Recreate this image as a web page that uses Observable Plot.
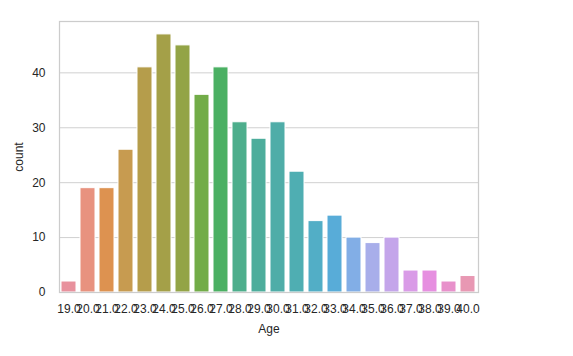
<!DOCTYPE html>
<html>
<head>
<meta charset="utf-8">
<script src="https://cdn.jsdelivr.net/npm/d3@7"></script>
<script src="https://cdn.jsdelivr.net/npm/@observablehq/plot@0.6"></script>
<style>
  html, body { margin: 0; padding: 0; background: white; }
</style>
</head>
<body>
<div id="chart"></div>
<script>
const ages = ["19.0","20.0","21.0","22.0","23.0","24.0","25.0","26.0","27.0","28.0","29.0",
              "30.0","31.0","32.0","33.0","34.0","35.0","36.0","37.0","38.0","39.0","40.0"];
const counts = [2, 19, 19, 26, 41, 47, 45, 36, 41, 31, 28,
                31, 22, 13, 14, 10, 9, 10, 4, 4, 2, 3];
const barColors = ["#e8919d","#e8927f","#dd9250","#c79b50","#b59d4b","#a4a048","#93a446","#72ac48","#4bb063","#4dae8c","#4dad9c",
                   "#4fada8","#4faeb2","#52aec6","#58acd8","#82aee6","#a8aeea","#c4a5ea","#d99be7","#e68fe0","#e891cb","#e898b3"];
const yTicks = [0, 10, 20, 30, 40];

const data = ages.map((a, i) => ({age: a, count: counts[i], color: barColors[i]}));

const chart = Plot.plot({
  width: 573,
  height: 356,
  marginLeft: 59,
  marginRight: 95,
  marginTop: 21,
  marginBottom: 64,
  style: {fontFamily: "'Liberation Sans', Arial, sans-serif", fontSize: "12px", color: "#262626", background: "white"},
  x: {domain: ages, paddingInner: 0.2, paddingOuter: 0.1, label: "Age"},
  y: {domain: [0, 49.35], label: "count"},
  color: {type: "identity"},
  marks: [
    Plot.gridY(yTicks, {stroke: "#d0d0d0", strokeOpacity: 1, strokeWidth: 1}),
    Plot.barY(data, {x: "age", y: "count", fill: "color", stroke: "white", strokeWidth: 1}),
    Plot.frame({stroke: "#cccccc", strokeWidth: 1.25}),
    Plot.axisX({tickSize: 0, tickPadding: 12, label: "Age", labelAnchor: "center", labelArrow: "none", labelOffset: 40}),
    Plot.axisY(yTicks, {tickSize: 0, tickPadding: 14, label: "count", labelAnchor: "center", labelArrow: "none", labelOffset: 45})
  ]
});
document.getElementById("chart").appendChild(chart);
</script>
</body>
</html>
